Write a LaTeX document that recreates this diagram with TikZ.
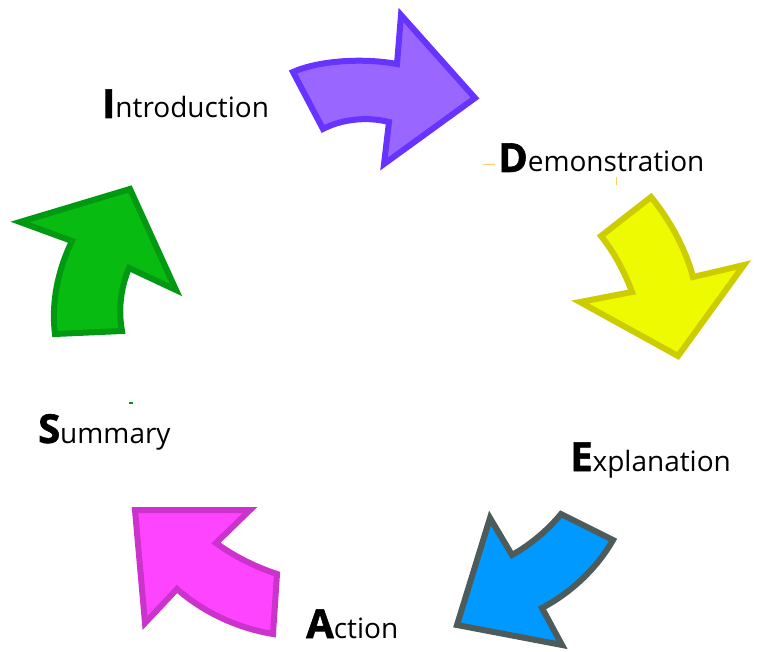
\documentclass[tikz,border=0pt]{standalone}
\usepackage{fontspec}
\setmainfont{Open Sans}
\newfontfamily\heavy{Open Sans}[BoldFeatures={FakeBold=1.5}]
\newcommand\biglbl[2]{{\fontsize{40}{40}\selectfont\heavy\bfseries #1}{\fontsize{28}{28}\selectfont #2}}
\definecolor{pfill}{HTML}{9966FF}\definecolor{pline}{HTML}{6633FF}
\definecolor{yfill}{HTML}{EEFA00}\definecolor{yline}{HTML}{CCCC00}
\definecolor{bfill}{HTML}{0099FF}\definecolor{bline}{HTML}{4D5B5B}
\definecolor{mfill}{HTML}{FF44FF}\definecolor{mline}{HTML}{CC33CC}
\definecolor{gfill}{HTML}{08BB11}\definecolor{gline}{HTML}{009911}
\definecolor{speck}{HTML}{FFCC66}
\tikzset{
  arrowshape/.style={line width=6pt, line join=miter},
  lbl/.style={anchor=base west, inner sep=0pt},
}
\begin{document}
\begin{tikzpicture}[x=1pt,y=-1pt]
\path[use as bounding box] (0,0) rectangle (757,652);
% purple
\path[arrowshape, fill=pfill, draw=pline]
  (293,72) .. controls (320,60) and (365,58) .. (397,64) -- (401,15) -- (475,98) -- (384,164)
  -- (389,122) .. controls (365,116) and (340,120) .. (323,129) -- cycle;
% yellow
\path[arrowshape, fill=yfill, draw=yline]
  (601,236) -- (651,197) .. controls (670,220) and (686,250) .. (693,277) -- (744,265)
  -- (678,356) -- (580,302) -- (632,292) .. controls (625,273) and (614,252) .. (601,236) -- cycle;
% blue
\path[arrowshape, fill=bfill, draw=bline]
  (561,514) -- (613,540) .. controls (597,568) and (572,592) .. (542,608) -- (562,645)
  -- (457,625) -- (490,518) -- (512,555) .. controls (530,545) and (548,530) .. (561,514) -- cycle;
% magenta
\path[arrowshape, fill=mfill, draw=mline]
  (135,510) -- (250,510) -- (216,543) .. controls (235,557) and (256,567) .. (277,574)
  -- (273,634) .. controls (237,628) and (203,612) .. (177,589) -- (145,623) -- cycle;
% green
\path[arrowshape, fill=gfill, draw=gline]
  (20,222) -- (130,189) -- (176,290) -- (129,268) .. controls (121,287) and (118,309) .. (122,331)
  -- (55,334) .. controls (51,302) and (58,270) .. (72,241) -- cycle;
% labels
\node[lbl] (intro) at (102,118) {\biglbl{I}{ntroduction}};
\node[lbl] (demo) at (498,172) {\biglbl{D}{emonstration}};
\node[lbl] (expl) at (570,471) {\biglbl{E}{xplanation}};
\node[lbl] (act) at (306,638) {\biglbl{A}{ction}};
\node[lbl] (summ) at (38,443) {\biglbl{S}{ummary}};
% small specks
\draw[speck, line width=1pt] (483,164.5) -- (495,164.5);
\draw[speck, line width=1pt] (616,177) -- (616,185);
\fill[gline] (129,402) rectangle (133,404);
\end{tikzpicture}
\end{document}
